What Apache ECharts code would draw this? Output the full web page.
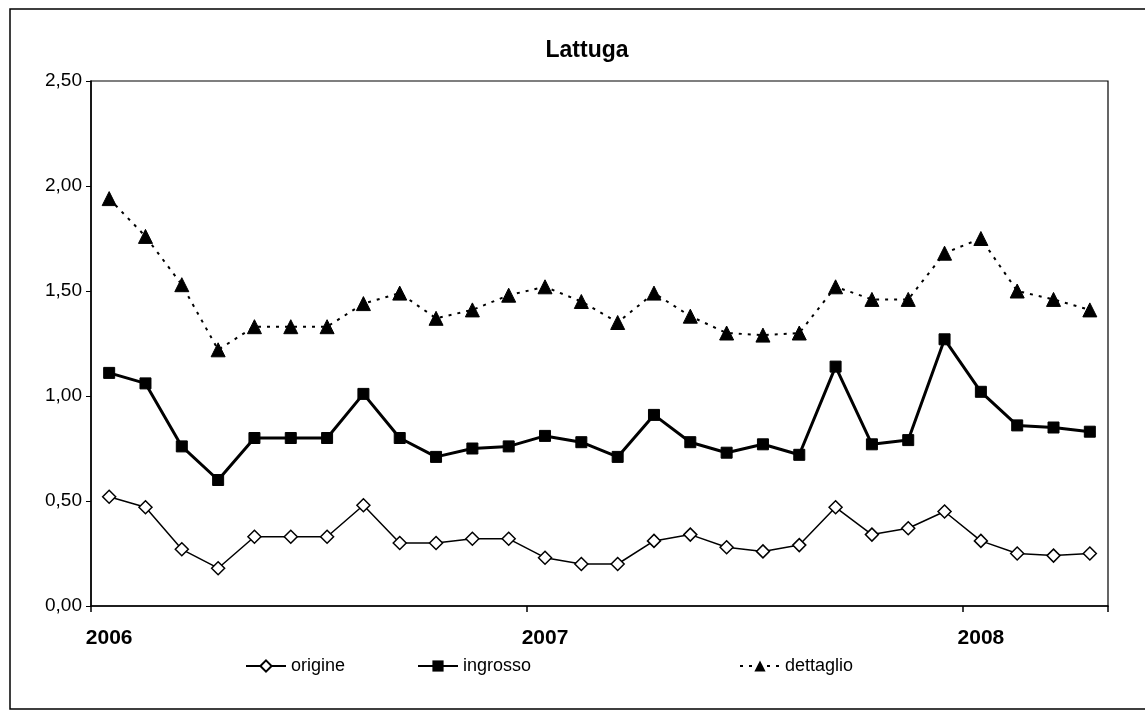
<!DOCTYPE html>
<html>
<head>
<meta charset="utf-8">
<script src="https://cdn.jsdelivr.net/npm/echarts@6/dist/echarts.min.js"></script>
<style>
html,body{margin:0;padding:0;background:#fff;}
#chart{width:1145px;height:713px;}
</style>
</head>
<body>
<div id="chart"></div>
<script>
// Monthly categories Jan 2006 - Apr 2008
const categories = [
  '2006-01','2006-02','2006-03','2006-04','2006-05','2006-06','2006-07','2006-08','2006-09','2006-10','2006-11','2006-12',
  '2007-01','2007-02','2007-03','2007-04','2007-05','2007-06','2007-07','2007-08','2007-09','2007-10','2007-11','2007-12',
  '2008-01','2008-02','2008-03','2008-04'
];
const yearLabels = ['2006', '2007', '2008'];
const origine = [0.52,0.47,0.27,0.18,0.33,0.33,0.33,0.48,0.30,0.30,0.32,0.32,
                 0.23,0.20,0.20,0.31,0.34,0.28,0.26,0.29,0.47,0.34,0.37,0.45,
                 0.31,0.25,0.24,0.25];
const ingrosso = [1.11,1.06,0.76,0.60,0.80,0.80,0.80,1.01,0.80,0.71,0.75,0.76,
                  0.81,0.78,0.71,0.91,0.78,0.73,0.77,0.72,1.14,0.77,0.79,1.27,
                  1.02,0.86,0.85,0.83];
const dettaglio = [1.94,1.76,1.53,1.22,1.33,1.33,1.33,1.44,1.49,1.37,1.41,1.48,
                   1.52,1.45,1.35,1.49,1.38,1.30,1.29,1.30,1.52,1.46,1.46,1.68,
                   1.75,1.50,1.46,1.41];
const yTicks = [0, 0.5, 1.0, 1.5, 2.0, 2.5];

const chart = echarts.init(document.getElementById('chart'));
const font = 'Liberation Sans, Arial, sans-serif';
const legendBase = {
  orient: 'horizontal', top: 652, itemWidth: 40, itemHeight: 14,
  textStyle: {fontFamily: font, fontSize: 18, color: '#000'}, itemGap: 4
};
chart.setOption({
  animation: false,
  backgroundColor: '#fff',
  title: {
    text: 'Lattuga', left: 582, top: 34, textAlign: 'center',
    textStyle: {fontFamily: font, fontSize: 23, fontWeight: 'bold', color: '#000'}
  },
  graphic: [{
    type: 'rect', shape: {x: 10, y: 9, width: 1140, height: 700},
    style: {fill: 'none', stroke: '#000', lineWidth: 1.5}, silent: true, z: -1
  }],
  legend: [
    Object.assign({}, legendBase, {left: 240, data: ['origine']}),
    Object.assign({}, legendBase, {left: 412, data: ['ingrosso']}),
    Object.assign({}, legendBase, {left: 734, data: ['dettaglio']})
  ],
  grid: {left: 91, right: 37, top: 81, bottom: 107, show: true, borderColor: '#000', borderWidth: 1.2},
  xAxis: {
    type: 'category', data: categories, boundaryGap: true,
    axisLine: {lineStyle: {color: '#000', width: 1.5}},
    axisTick: {show: true, length: 6, lineStyle: {color: '#000', width: 1.5},
      interval: function (i) { return i % 12 === 0; }},
    axisLabel: {
      interval: function (i) { return i % 12 === 0; },
      formatter: function (v, i) { return yearLabels[Math.floor(i / 12)]; },
      margin: 22, fontFamily: font, fontSize: 21, fontWeight: 'bold', color: '#000'
    },
    splitLine: {show: false}
  },
  yAxis: {
    type: 'value', min: yTicks[0], max: yTicks[yTicks.length - 1], interval: 0.5,
    axisLine: {show: true, lineStyle: {color: '#000', width: 1.5}},
    axisTick: {show: true, length: 5, lineStyle: {color: '#000'}},
    axisLabel: {
      formatter: function (v) { return v.toFixed(2).replace('.', ','); },
      margin: 9, fontFamily: font, fontSize: 19, color: '#000'
    },
    splitLine: {show: false}
  },
  series: [
    {
      name: 'origine', type: 'line', data: origine,
      symbol: 'diamond', symbolSize: 13,
      lineStyle: {color: '#000', width: 1.5},
      itemStyle: {color: '#fff', borderColor: '#000', borderWidth: 1.5}
    },
    {
      name: 'ingrosso', type: 'line', data: ingrosso,
      symbol: 'rect', symbolSize: 11,
      lineStyle: {color: '#000', width: 3},
      itemStyle: {color: '#000', borderColor: '#000'}
    },
    {
      name: 'dettaglio', type: 'line', data: dettaglio,
      symbol: 'triangle', symbolSize: 14,
      lineStyle: {color: '#000', width: 2, type: [3, 6]},
      itemStyle: {color: '#000', borderColor: '#000'}
    }
  ]
});
</script>
</body>
</html>
